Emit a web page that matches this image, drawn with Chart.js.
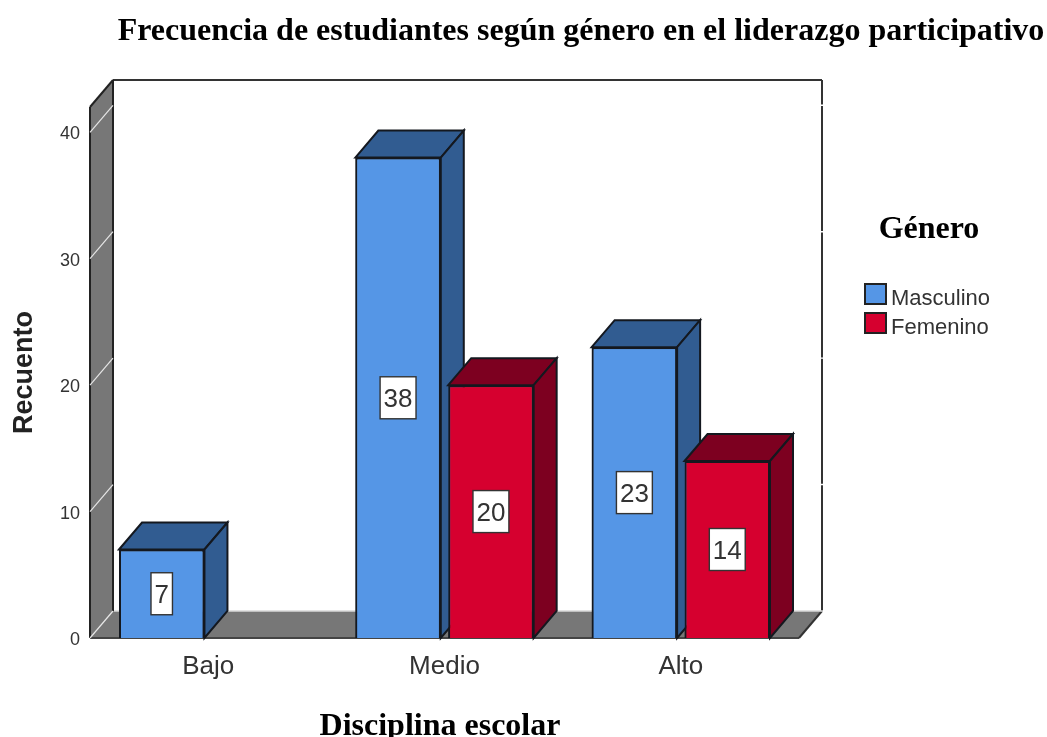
<!DOCTYPE html>
<html lang="es">
<head>
<meta charset="utf-8">
<title>Frecuencia de estudiantes</title>
<script src="https://cdn.jsdelivr.net/npm/chart.js@4"></script>
<style>
    html, body { margin: 0; padding: 0; background: #fff; overflow: hidden; }
    canvas { display: block; }
</style>
</head>
<body>
<canvas id="barChart" width="1047" height="737"></canvas>
<script>
const categories = ['Bajo', 'Medio', 'Alto'];
const masculino = [7, 38, 23];
const femenino = [null, 20, 14];
const yTicks = [0, 10, 20, 30, 40];

const chartTitle = 'Frecuencia de estudiantes según género en el liderazgo participativo';
const legendTitle = 'Género';
const xTitle = 'Disciplina escolar';
const yTitle = 'Recuento';

const depthX = 23; // how far the 3D box goes back
const depthY = -27;
const edge = '#14181f';
const wallGray = '#777777';
const shades = {
    Masculino: { front: '#5596e6', side: '#315c91' },
    Femenino: { front: '#d6002f', side: '#7d0020' }
};

function poly(ctx, pts, fill, stroke) {
    ctx.beginPath();
    pts.forEach((p, i) => i ? ctx.lineTo(p[0], p[1]) : ctx.moveTo(p[0], p[1]));
    ctx.closePath();
    if (fill) { ctx.fillStyle = fill; ctx.fill(); }
    if (stroke) { ctx.strokeStyle = stroke; ctx.lineWidth = 2; ctx.stroke(); }
}

function line(ctx, x1, y1, x2, y2, color, width) {
    ctx.beginPath();
    ctx.moveTo(x1, y1);
    ctx.lineTo(x2, y2);
    ctx.strokeStyle = color;
    ctx.lineWidth = width;
    ctx.stroke();
}

const wallsPlugin = {
    id: 'walls',
    // back wall, left wall, floor
    beforeDatasetsDraw(chart) {
        const { ctx, chartArea: a, scales: { y } } = chart;
        const bx = a.left + depthX, tx = a.right + depthX;
        const by = a.bottom + depthY, ty = a.top + depthY;
        ctx.save();
        poly(ctx, [[bx, ty], [tx, ty], [tx, by], [bx, by]], '#ffffff');
        poly(ctx, [[a.left, a.top], [bx, ty], [bx, by], [a.left, a.bottom]], wallGray);
        poly(ctx, [[a.left, a.bottom], [bx, by], [tx, by], [a.right, a.bottom]], wallGray);
        line(ctx, bx, ty, tx, ty, '#333', 2);
        line(ctx, tx, ty, tx, by, '#333', 2);
        line(ctx, a.left, a.top, bx, ty, '#222', 2);
        line(ctx, a.left, a.top, a.left, a.bottom, '#222', 2);
        line(ctx, bx, ty, bx, by, '#222', 2);
        line(ctx, a.left, a.bottom, a.right, a.bottom, '#444', 2);
        line(ctx, a.right, a.bottom, tx, by, '#333', 2);
        yTicks.forEach(v => {
            const py = y.getPixelForValue(v);
            line(ctx, a.left, py, bx, py + depthY, '#e6e6e6', 1.2);
            line(ctx, bx + 1, py + depthY, tx + 1, py + depthY, v === 0 ? '#d8d8d8' : '#ffffff', 1.4);
        });
        ctx.restore();
    },
    afterDatasetsDraw(chart) {
        const { ctx } = chart;
        ctx.save();
        // the library paints the left bar last, so repaint left to right with the
        // side and top of each bar, the next bar then overlaps them
        chart.data.datasets.forEach((ds, i) => {
            const colors = shades[ds.label];
            chart.getDatasetMeta(i).data.forEach((bar, j) => {
                if (ds.data[j] === null) return;
                const l = bar.x - bar.width / 2, r = bar.x + bar.width / 2;
                poly(ctx, [[l, bar.y], [l + depthX, bar.y + depthY], [r + depthX, bar.y + depthY], [r, bar.y]], colors.side, edge);
                poly(ctx, [[r, bar.y], [r + depthX, bar.y + depthY], [r + depthX, bar.base + depthY], [r, bar.base]], colors.side, edge);
                bar.draw(ctx);
            });
        });
        chart.data.datasets.forEach((ds, i) => {
            chart.getDatasetMeta(i).data.forEach((bar, j) => {
                if (ds.data[j] === null) return;
                const text = String(ds.data[j]);
                const my = (bar.y + bar.base) / 2;
                ctx.font = '26px "Liberation Sans"';
                const w = ctx.measureText(text).width + 7;
                ctx.fillStyle = '#fff';
                ctx.strokeStyle = '#333';
                ctx.lineWidth = 1.4;
                ctx.fillRect(bar.x - w / 2, my - 21, w, 42);
                ctx.strokeRect(bar.x - w / 2, my - 21, w, 42);
                ctx.fillStyle = '#333';
                ctx.textAlign = 'center';
                ctx.textBaseline = 'middle';
                ctx.fillText(text, bar.x, my + 2);
            });
        });
        // headings and legend sit outside the plot
        ctx.textBaseline = 'alphabetic';
        ctx.textAlign = 'center';
        ctx.fillStyle = '#000';
        ctx.font = 'bold 32px "Liberation Serif"';
        ctx.fillText(chartTitle, 581, 40);
        ctx.fillText(legendTitle, 929, 238);
        ctx.fillText(xTitle, 440, 735);
        ctx.textAlign = 'left';
        ctx.font = '22px "Liberation Sans"';
        chart.data.datasets.forEach((ds, i) => {
            const top = 284 + i * 29;
            ctx.fillStyle = ds.backgroundColor;
            ctx.strokeStyle = '#222';
            ctx.lineWidth = 2;
            ctx.fillRect(865, top, 21, 20);
            ctx.strokeRect(865, top, 21, 20);
            ctx.fillStyle = '#333';
            ctx.fillText(ds.label, 891, top + 21);
        });
        ctx.restore();
    }
};

new Chart(document.getElementById('barChart'), {
    type: 'bar',
    data: {
        labels: categories,
        datasets: [
            {
                label: 'Masculino',
                data: masculino,
                backgroundColor: shades.Masculino.front,
                borderColor: edge,
                borderWidth: 2
            },
            {
                label: 'Femenino',
                data: femenino,
                backgroundColor: shades.Femenino.front,
                borderColor: edge,
                borderWidth: 2
            }
        ]
    },
    options: {
        responsive: false,
        animation: false,
        categoryPercentage: 0.786,
        barPercentage: 0.92,
        layout: { padding: { top: 107, right: 248, left: 0, bottom: 0 } },
        plugins: {
            legend: { display: false },
            tooltip: { enabled: false }
        },
        scales: {
            x: {
                grid: { display: false },
                border: { display: false },
                ticks: {
                    color: '#333',
                    font: { family: 'Liberation Sans', size: 26 },
                    padding: 5
                },
                afterFit: function(scale) { scale.height = 99; }
            },
            y: {
                min: 0,
                max: 42,
                grid: { display: false },
                border: { display: false },
                ticks: {
                    stepSize: 10,
                    includeBounds: false,
                    color: '#333',
                    font: { family: 'Liberation Sans', size: 18 },
                    padding: 2,
                    labelOffset: 2
                },
                title: {
                    display: true,
                    text: yTitle,
                    color: '#222',
                    font: { family: 'Liberation Sans', size: 27, weight: 'bold' },
                    padding: { top: 8, bottom: 0 }
                },
                afterFit: function(scale) { scale.width = 90; }
            }
        }
    },
    plugins: [wallsPlugin]
});
</script>
</body>
</html>
